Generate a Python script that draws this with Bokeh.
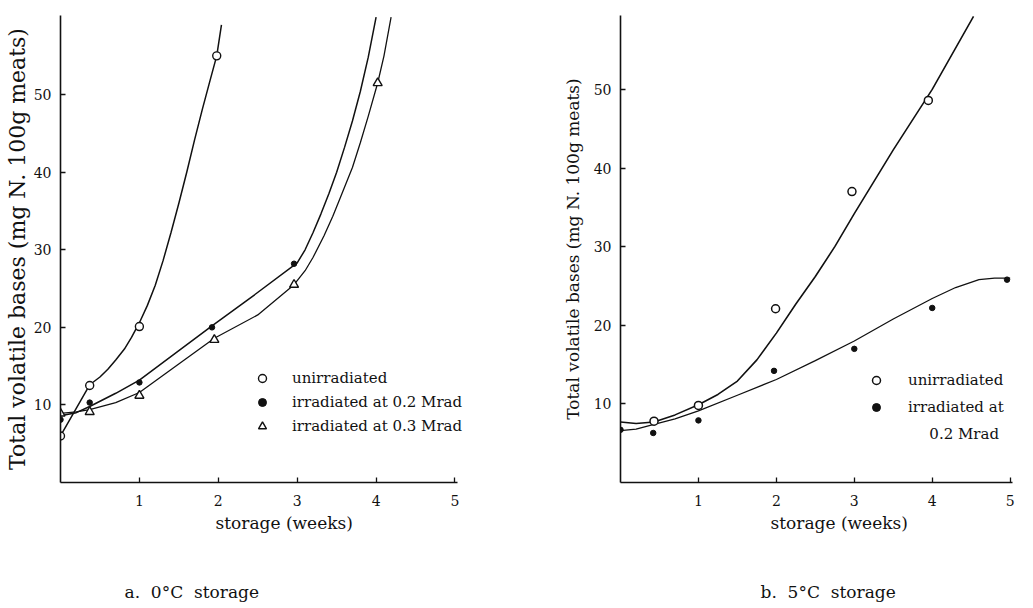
from bokeh.plotting import figure
from bokeh.layouts import row
from bokeh.models import Legend, LegendItem, Title, Label, FixedTicker, Range1d
from bokeh.embed import file_html
from bokeh.resources import INLINE

# ---------------- data: panel a (0 °C storage) ----------------
a_unirr_x = [0, 0.37, 1.0, 1.98]
a_unirr_y = [6.0, 12.5, 20.1, 55.0]
a_02_x = [0, 0.37, 1.0, 1.92, 2.96]
a_02_y = [8.1, 10.3, 12.9, 20.0, 28.2]
a_03_x = [0, 0.37, 1.0, 1.95, 2.96, 4.02]
a_03_y = [8.9, 9.1, 11.2, 18.4, 25.5, 51.5]

a_unirr_curve_x = [0, 0.37, 0.5, 0.6, 0.7, 0.81, 0.9, 1.0, 1.1, 1.2, 1.3, 1.4, 1.5,
                   1.6, 1.7, 1.8, 1.9, 1.98, 2.04]
a_unirr_curve_y = [6.0, 12.6, 13.6, 14.6, 15.8, 17.2, 18.7, 20.6, 22.8, 25.4, 28.6, 32.2, 36.0,
                   40.0, 44.2, 48.2, 52.0, 55.0, 59.0]
a_02_curve_x = [0, 0.2, 0.37, 0.7, 1.0, 1.5, 1.92, 2.46, 3.0, 3.1, 3.2, 3.3, 3.4, 3.5,
                3.6, 3.7, 3.8, 3.9, 4.0]
a_02_curve_y = [8.6, 9.0, 9.8, 11.5, 13.2, 17.0, 20.2, 24.2, 28.3, 30.0, 32.2, 34.6, 37.2, 40.0,
                43.2, 46.6, 50.4, 54.8, 60.0]
a_03_curve_x = [0, 0.2, 0.37, 0.7, 1.0, 1.49, 1.95, 2.5, 2.96, 3.1, 3.2, 3.34, 3.45, 3.55,
                3.7, 3.8, 3.9, 4.02, 4.1, 4.19]
a_03_curve_y = [8.9, 9.1, 9.4, 10.3, 11.6, 15.2, 18.6, 21.6, 25.5, 27.3, 29.0, 31.8, 34.3, 36.8,
                40.6, 43.8, 47.2, 51.5, 55.0, 60.0]

# ---------------- data: panel b (5 °C storage) ----------------
b_unirr_x = [0.43, 1.0, 1.99, 2.97, 3.95]
b_unirr_y = [7.8, 9.8, 22.1, 37.0, 48.6]
b_02_x = [0, 0.42, 1.0, 1.97, 3.0, 4.0, 4.96]
b_02_y = [6.7, 6.3, 7.9, 14.2, 17.0, 22.2, 25.8]

b_unirr_curve_x = [0, 0.2, 0.43, 0.7, 1.0, 1.25, 1.5, 1.75, 2.0, 2.25, 2.5, 2.75, 3.0, 3.5, 4.0, 4.53]
b_unirr_curve_y = [7.7, 7.5, 7.7, 8.6, 9.9, 11.2, 12.9, 15.6, 19.0, 22.7, 26.2, 30.0, 34.2, 42.3, 50.0, 59.3]
b_02_curve_x = [0, 0.2, 0.43, 0.7, 1.0, 1.5, 2.0, 2.5, 3.0, 3.5, 4.0, 4.3, 4.6, 4.8, 5.0]
b_02_curve_y = [6.6, 6.8, 7.4, 8.1, 9.1, 11.1, 13.1, 15.5, 18.0, 20.8, 23.4, 24.8, 25.8, 26.0, 26.0]

x_ticks = [1, 2, 3, 4, 5]
y_ticks = [10, 20, 30, 40, 50]

y_label = "Total volatile bases (mg N. 100g meats)"
x_label = "storage (weeks)"
legend_a = ["unirradiated", "irradiated at 0.2 Mrad", "irradiated at 0.3 Mrad"]
legend_b = ["unirradiated", "irradiated at"]
legend_b_extra = "0.2 Mrad"
caption_a = "a.\u00a0 0°C\u00a0 storage"
caption_b = "b.\u00a0 5°C\u00a0 storage"

FONT = "DejaVu Serif"
INK = "#111111"


def style(p, ylab_size, ylab_standoff):
    for ax in (p.xaxis[0], p.yaxis[0]):
        ax.axis_line_color = INK
        ax.axis_line_width = 1.6
        ax.major_tick_in = 5
        ax.major_tick_out = 0
        ax.major_tick_line_color = INK
        ax.major_tick_line_width = 1.3
        ax.minor_tick_line_color = None
        ax.major_label_text_font = FONT
        ax.major_label_text_font_size = "14px"
        ax.major_label_text_color = INK
    p.xaxis[0].ticker = FixedTicker(ticks=x_ticks)
    p.yaxis[0].ticker = FixedTicker(ticks=y_ticks)
    p.xaxis[0].bounds = (0, 5.03)
    p.xaxis[0].major_label_standoff = 12
    p.yaxis[0].major_label_standoff = 9
    p.yaxis[0].axis_label = y_label
    p.yaxis[0].axis_label_text_font = FONT
    p.yaxis[0].axis_label_text_font_style = "normal"
    p.yaxis[0].axis_label_text_font_size = ylab_size
    p.yaxis[0].axis_label_text_color = INK
    p.yaxis[0].axis_label_standoff = ylab_standoff
    p.grid.visible = False
    p.outline_line_color = None
    p.background_fill_color = "white"
    p.border_fill_color = "white"


def add_bottom_titles(p, caption, xoff, coff):
    t1 = Title(text=x_label, align="left", offset=xoff, vertical_align="top", standoff=8,
               text_font=FONT, text_font_size="17px", text_font_style="normal", text_color=INK)
    p.add_layout(t1, "below")
    spacer = Title(text=" ", align="left", offset=0, vertical_align="top", standoff=28,
                   text_font=FONT, text_font_size="10px", text_color=INK)
    p.add_layout(spacer, "below")
    t2 = Title(text=caption, align="left", offset=coff, vertical_align="top", standoff=4,
               text_font=FONT, text_font_size="17px", text_font_style="normal", text_color=INK)
    p.add_layout(t2, "below")


# ---------------- panel a ----------------
pa = figure(width=500, height=608, output_backend="svg", toolbar_location=None,
            x_range=Range1d(0, 5.45), y_range=Range1d(0, 60.2),
            min_border_left=60, min_border_right=10, min_border_top=10, min_border_bottom=124)
style(pa, "22px", 1)

pa.line(a_unirr_curve_x, a_unirr_curve_y, line_color=INK, line_width=1.5)
pa.line(a_02_curve_x, a_02_curve_y, line_color=INK, line_width=1.5)
pa.line(a_03_curve_x, a_03_curve_y, line_color=INK, line_width=1.3)
ra1 = pa.scatter(a_unirr_x, a_unirr_y, marker="circle", size=8, fill_color="white",
                 line_color=INK, line_width=1.4)
ra2 = pa.scatter(a_02_x, a_02_y, marker="circle", size=5.5, fill_color=INK, line_color=INK)
ra3 = pa.scatter(a_03_x, a_03_y, marker="triangle", size=9, fill_color="white",
                 line_color=INK, line_width=1.4)

leg_a = Legend(items=[LegendItem(label=legend_a[0], renderers=[ra1]),
                      LegendItem(label=legend_a[1], renderers=[ra2]),
                      LegendItem(label=legend_a[2], renderers=[ra3])],
               location=(192, 46), padding=0, margin=0, spacing=4,
               glyph_width=20, glyph_height=20, label_height=20, label_standoff=20,
               label_text_font=FONT, label_text_font_size="15px", label_text_color=INK,
               border_line_color=None, background_fill_alpha=0)
pa.add_layout(leg_a, "center")
add_bottom_titles(pa, caption_a, 155, 64)

# ---------------- panel b ----------------
pb = figure(width=533, height=608, output_backend="svg", toolbar_location=None,
            x_range=Range1d(0, 5.03), y_range=Range1d(0, 59.4),
            min_border_left=120, min_border_right=21, min_border_top=15, min_border_bottom=126)
style(pb, "17px", 8)

pb.line(b_unirr_curve_x, b_unirr_curve_y, line_color=INK, line_width=1.6)
pb.line(b_02_curve_x, b_02_curve_y, line_color=INK, line_width=1.3)
rb1 = pb.scatter(b_unirr_x, b_unirr_y, marker="circle", size=8, fill_color="white",
                 line_color=INK, line_width=1.5)
rb2 = pb.scatter(b_02_x, b_02_y, marker="circle", size=5.5, fill_color=INK, line_color=INK)

leg_b = Legend(items=[LegendItem(label=legend_b[0], renderers=[rb1]),
                      LegendItem(label=legend_b[1], renderers=[rb2])],
               location=(246, 65), padding=0, margin=0, spacing=7,
               glyph_width=20, glyph_height=20, label_height=20, label_standoff=22,
               label_text_font=FONT, label_text_font_size="15px", label_text_color=INK,
               border_line_color=None, background_fill_alpha=0)
pb.add_layout(leg_b, "center")
pb.add_layout(Label(x=4.41, y=6.2, text=legend_b_extra, text_align="center",
                    text_baseline="middle", text_font=FONT, text_font_size="15px",
                    text_color=INK))
add_bottom_titles(pb, caption_b, 150, 140)

layout = row(pa, pb)
open("out.html", "w").write(file_html(layout, INLINE))
